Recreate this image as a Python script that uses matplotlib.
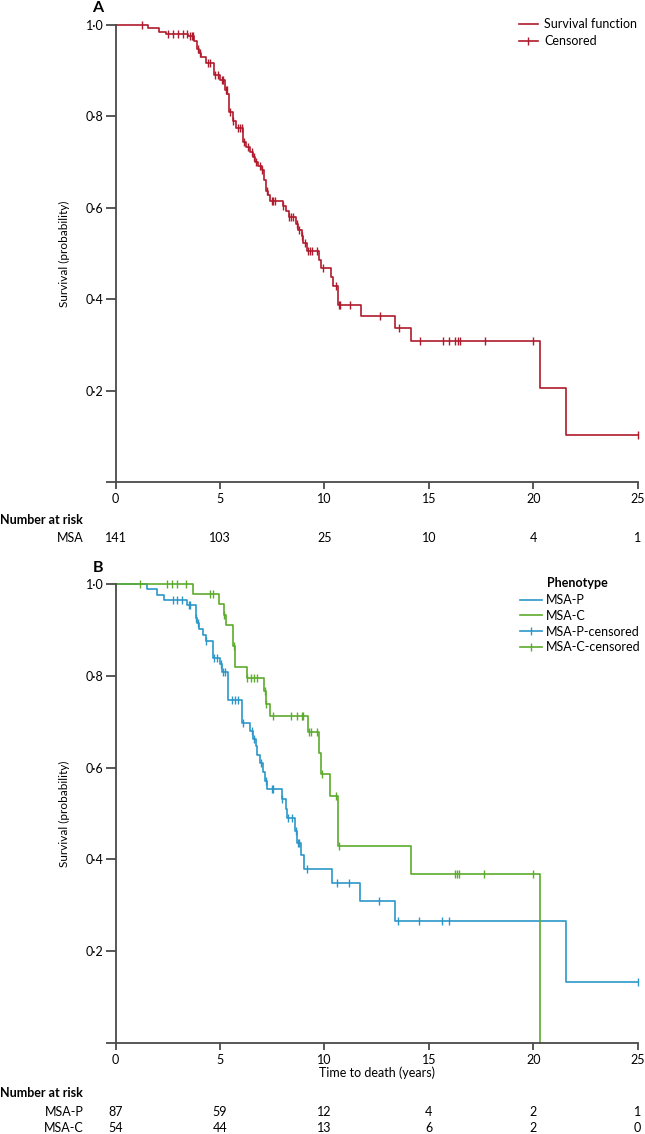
import matplotlib
matplotlib.use('Agg')
import matplotlib.pyplot as plt
import numpy as np
from matplotlib.lines import Line2D
from matplotlib.transforms import blended_transform_factory

plt.rcParams['font.family'] = ['Lato', 'DejaVu Sans']
plt.rcParams['font.size'] = 9

# ---- panel A: all MSA patients ----
a_times = [1.57, 2.10, 2.42, 3.49, 3.77, 3.92, 4.00, 4.08, 4.33, 4.73, 5.00, 5.24,
           5.35, 5.45, 5.63, 5.75, 6.12, 6.27, 6.43, 6.60, 6.68, 6.84, 7.00, 7.10,
           7.20, 7.30, 7.39, 8.00, 8.17, 8.29, 8.64, 8.75, 8.91, 9.00, 9.15, 9.74,
           9.86, 10.34, 10.42, 10.66, 11.73, 13.40, 14.15, 20.33, 21.59]
a_surv = [0.993, 0.984, 0.980, 0.975, 0.965, 0.947, 0.939, 0.931, 0.917, 0.891, 0.880, 0.858,
          0.848, 0.810, 0.791, 0.774, 0.745, 0.734, 0.723, 0.712, 0.701, 0.692, 0.683, 0.661,
          0.637, 0.627, 0.615, 0.604, 0.593, 0.579, 0.565, 0.551, 0.538, 0.523, 0.506, 0.486,
          0.468, 0.448, 0.429, 0.387, 0.364, 0.338, 0.309, 0.206, 0.103]
a_cens = [1.25, 2.50, 2.77, 3.00, 3.22, 3.41, 3.56, 3.65, 3.72, 3.93, 4.05, 4.44, 4.52,
          4.76, 4.92, 5.08, 5.16, 5.27, 5.32, 5.48, 5.64, 5.85, 5.96, 6.04, 6.15, 6.32,
          6.52, 6.63, 6.75, 6.91, 7.03, 7.23, 7.47, 7.55, 7.63, 8.01, 8.32, 8.40, 8.48,
          8.67, 8.80, 8.94, 9.07, 9.22, 9.31, 9.39, 9.66, 9.94, 10.55, 10.68, 10.74,
          11.25, 12.65, 13.56, 14.57, 15.66, 15.97, 16.24, 16.40, 16.48, 17.68, 19.99, 25.0]

# ---- panel B: by phenotype ----
p_times = [1.49, 2.00, 2.34, 3.44, 3.85, 3.90, 4.00, 4.20, 4.33, 4.68, 5.00, 5.11, 5.40,
           6.04, 6.44, 6.60, 6.72, 6.79, 6.93, 7.05, 7.15, 7.27, 7.95, 8.16, 8.22, 8.59,
           8.67, 8.86, 9.03, 10.37, 11.70, 13.37, 21.56]
p_surv = [0.990, 0.976, 0.965, 0.954, 0.927, 0.914, 0.902, 0.889, 0.876, 0.838, 0.825, 0.809, 0.747,
          0.697, 0.680, 0.662, 0.646, 0.627, 0.609, 0.591, 0.571, 0.553, 0.532, 0.509, 0.490, 0.462,
          0.436, 0.410, 0.379, 0.348, 0.309, 0.266, 0.132]
p_cens = [2.77, 2.93, 3.17, 3.53, 3.56, 3.86, 3.96, 4.34, 4.71, 4.87, 5.03, 5.13, 5.24,
          5.56, 5.72, 5.88, 6.09, 6.52, 6.62, 6.95, 7.19, 7.47, 7.55, 7.96, 8.27, 8.43,
          8.62, 8.72, 8.80, 9.17, 10.61, 11.19, 12.62, 13.53, 14.54, 15.64, 15.96, 25.0]

c_times = [3.69, 4.95, 5.19, 5.29, 5.64, 5.70, 6.28, 7.12, 7.20, 7.39, 9.20, 9.72, 9.86,
           10.26, 10.63, 14.14, 20.31]
c_surv = [0.978, 0.956, 0.932, 0.911, 0.865, 0.819, 0.795, 0.767, 0.739, 0.713, 0.677, 0.631, 0.587,
          0.538, 0.430, 0.368, 0.0]
c_cens = [1.17, 2.45, 2.69, 2.93, 3.36, 4.52, 4.65, 5.21, 5.66, 6.30, 6.49, 6.63, 6.76,
          7.15, 7.22, 7.52, 8.38, 8.68, 8.93, 9.00, 9.27, 9.35, 9.63, 9.88, 10.55, 10.68,
          16.24, 16.35, 16.45, 17.65, 19.99]

risk_times = [0, 5, 10, 15, 20, 25]
risk_all = [141, 103, 25, 10, 4, 1]
risk_p = [87, 59, 12, 4, 2, 1]
risk_c = [54, 44, 13, 6, 2, 0]

y_ticks = [0, 0.2, 0.4, 0.6, 0.8, 1.0]
y_labels = [''] + [f'{v:.1f}'.replace('.', '\u00b7') for v in y_ticks[1:]]

RED = '#b01a2c'
BLUE = '#2b97c8'
GREEN = '#5cab2c'
AXC = '#4a4a4a'

W, H = 645, 1134


def fx(px):
    return px / W


def fy(py):
    return 1 - py / H


def km_line(ax, times, surv, end, color):
    xs = np.concatenate([[0], times, [end]])
    ys = np.concatenate([[1.0], surv, [surv[-1]]])
    ax.plot(xs, ys, drawstyle='steps-post', color=color, lw=1.2, clip_on=False)


def censor_marks(ax, times, surv, cens, color):
    idx = np.searchsorted(times, cens, side='right')
    levels = np.concatenate([[1.0], surv])[idx]
    ax.plot(cens, levels, ls='none', marker='|', ms=5.5, mew=1.0, color=color, clip_on=False)


def style_axes(ax):
    for s in ['top', 'right']:
        ax.spines[s].set_visible(False)
    for s in ['left', 'bottom']:
        ax.spines[s].set_color(AXC)
        ax.spines[s].set_linewidth(1.3)
    ax.set_xlim(0, 25)
    ax.set_ylim(0, 1)
    ax.set_xticks(risk_times)
    ax.set_yticks(y_ticks)
    ax.set_yticklabels(y_labels)
    ax.tick_params(axis='y', length=7, width=1.3, color=AXC, pad=1.5, labelsize=9)
    ax.tick_params(axis='x', length=5, width=1.3, color=AXC, pad=3, labelsize=9)
    ax.set_ylabel('Survival (probability)', fontsize=8.5)
    ax.yaxis.set_label_coords(-0.087, 0.5)


def risk_row(ax, py, label, counts):
    fig.text(fx(84), fy(py), label, ha='right', va='center')
    tr = blended_transform_factory(ax.transData, fig.transFigure)
    for t, n in zip(risk_times, counts):
        ax.text(t, fy(py), str(n), transform=tr, ha='center', va='center')


fig = plt.figure(figsize=(W / 100, H / 100), dpi=100)
ax_a = fig.add_axes([fx(115.5), fy(482), (637.7 - 115.5) / W, 457 / H])
ax_b = fig.add_axes([fx(115.5), fy(1043), (637.7 - 115.5) / W, 459 / H])

# panel A
km_line(ax_a, a_times, a_surv, 25, RED)
censor_marks(ax_a, a_times, a_surv, a_cens, RED)
style_axes(ax_a)
fig.text(fx(98), fy(8), 'A', fontsize=11.5, weight='bold', ha='center', va='center')
hA = [Line2D([], [], color=RED, lw=1.2),
      Line2D([], [], color=RED, lw=1.2, marker='|', ms=5.5, mew=1.0)]
ax_a.legend(hA, ['Survival function', 'Censored'], loc='upper left',
            bbox_to_anchor=(fx(519), fy(18)), bbox_transform=fig.transFigure,
            frameon=False, handlelength=1.5, handletextpad=0.5, labelspacing=0.4,
            borderpad=0, borderaxespad=0, fontsize=9)
fig.text(0, fy(520), 'Number at risk', weight='bold', ha='left', va='center')
risk_row(ax_a, 538, 'MSA', risk_all)

# panel B
km_line(ax_b, p_times, p_surv, 25, BLUE)
km_line(ax_b, c_times, c_surv, c_times[-1], GREEN)
censor_marks(ax_b, p_times, p_surv, p_cens, BLUE)
censor_marks(ax_b, c_times, c_surv, c_cens, GREEN)
style_axes(ax_b)
ax_b.set_xlabel('Time to death (years)', fontsize=9)
ax_b.xaxis.set_label_coords(0.5, -0.052)
fig.text(fx(98), fy(568), 'B', fontsize=11.5, weight='bold', ha='center', va='center')
fig.text(fx(547), fy(583), 'Phenotype', weight='bold', ha='left', va='center')
hB = [Line2D([], [], color=BLUE, lw=1.2),
      Line2D([], [], color=GREEN, lw=1.2),
      Line2D([], [], color=BLUE, lw=1.2, marker='|', ms=5.5, mew=1.0),
      Line2D([], [], color=GREEN, lw=1.2, marker='|', ms=5.5, mew=1.0)]
ax_b.legend(hB, ['MSA-P', 'MSA-C', 'MSA-P-censored', 'MSA-C-censored'], loc='upper left',
            bbox_to_anchor=(fx(520), fy(594)), bbox_transform=fig.transFigure,
            frameon=False, handlelength=1.75, handletextpad=0.35, labelspacing=0.3,
            borderpad=0, borderaxespad=0, fontsize=9)
fig.text(0, fy(1093), 'Number at risk', weight='bold', ha='left', va='center')
risk_row(ax_b, 1112, 'MSA-P', risk_p)
risk_row(ax_b, 1128, 'MSA-C', risk_c)

fig.savefig('out.png', dpi=100)
